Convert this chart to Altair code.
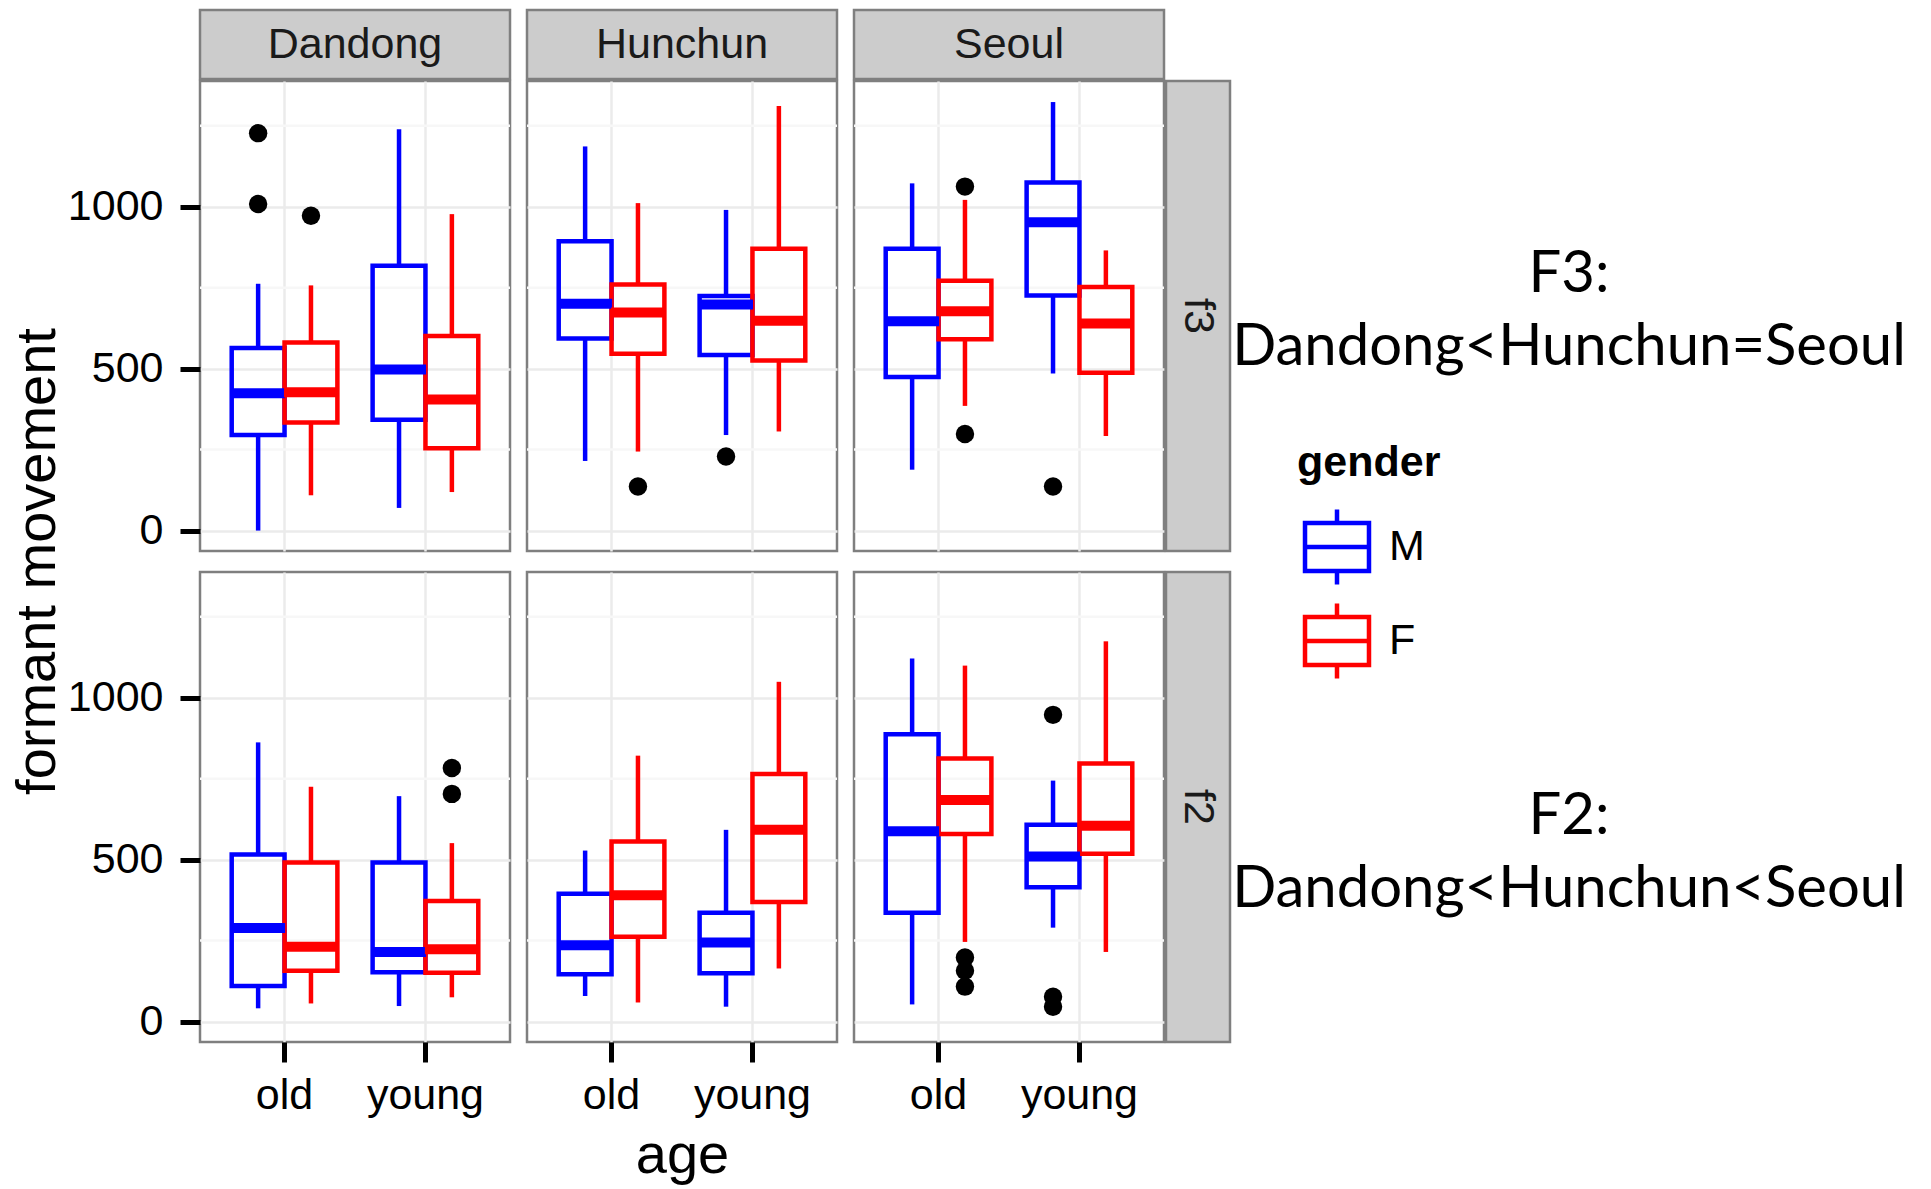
import altair as alt
import pandas as pd

# ---------------- data ----------------
cities = ["Dandong", "Hunchun", "Seoul"]
ages = ["old", "young"]
genders = ["M", "F"]
formants = ["f3", "f2"]

box_formant = ["f3"] * 12 + ["f2"] * 12
box_city = (["Dandong"] * 4 + ["Hunchun"] * 4 + ["Seoul"] * 4) * 2
box_age = ["old", "old", "young", "young"] * 6
box_gender = ["M", "F"] * 12
box_lo = [0, 109, 70, 119, 215, 244, 295, 306, 188, 385, 485, 292,
          41, 56, 48, 75, 79, 59, 46, 164, 53, 246, 290, 215]
box_q1 = [295, 334, 342, 254, 593, 546, 542, 525, 474, 591, 726, 487,
          110, 157, 152, 151, 146, 262, 149, 369, 336, 579, 415, 518]
box_med = [424, 427, 497, 405, 700, 673, 698, 648, 646, 677, 952, 639,
           289, 231, 215, 223, 236, 390, 244, 592, 588, 684, 510, 605]
box_q3 = [564, 581, 818, 601, 893, 760, 724, 870, 870, 771, 1075, 752,
          516, 491, 491, 372, 395, 556, 336, 764, 887, 812, 608, 797]
box_hi = [762, 757, 1239, 977, 1186, 1011, 990, 1311, 1072, 1021, 1323, 865,
          862, 725, 696, 551, 528, 821, 592, 1049, 1121, 1099, 744, 1174]

out_formant = ["f3"] * 8 + ["f2"] * 8
out_city = ["Dandong", "Dandong", "Dandong", "Hunchun", "Hunchun", "Seoul", "Seoul", "Seoul",
            "Dandong", "Dandong", "Seoul", "Seoul", "Seoul", "Seoul", "Seoul", "Seoul"]
out_age = ["old", "old", "old", "old", "young", "old", "old", "young",
           "young", "young", "old", "old", "old", "young", "young", "young"]
out_gender = ["M", "M", "F", "F", "M", "F", "F", "M",
              "F", "F", "F", "F", "F", "M", "M", "M"]
out_value = [1227, 1008, 972, 136, 229, 1062, 298, 136,
             783, 703, 198, 157, 108, 947, 77, 46]

major_ticks = [0, 500, 1000]
minor_ticks = [250, 750, 1250]
annot_texts = {"f3": "F3:\nDandong<Hunchun=Seoul", "f2": "F2:\nDandong<Hunchun<Seoul"}

box_df = pd.DataFrame({"formant": box_formant, "city": box_city, "age": box_age,
                       "gender": box_gender, "lo": box_lo, "q1": box_q1,
                       "med": box_med, "q3": box_q3, "hi": box_hi})
out_df = pd.DataFrame({"formant": out_formant, "city": out_city, "age": out_age,
                       "gender": out_gender, "value": out_value})
minor_df = pd.DataFrame({"v": minor_ticks})

# ---------------- style ----------------
FONT = "Liberation Sans"
GRID = "#EBEBEB"
MINOR = "#F7F7F7"
BORDER = "#7F7F7F"
STRIP = "#CCCCCC"
LW = 4.5
PW, PH = 310, 470
STRIP_H, STRIP_W = 69, 64
YT_W, GAP_Y, GAP_C, GAP_R, ANN_W = 58, 133, 17, 2, 690
GAP_STRIP, GAP_ROW = 2, 21

xscale = alt.Scale(domain=ages, paddingInner=0.25, paddingOuter=0.225)
offscale = alt.Scale(domain=genders, paddingInner=0, paddingOuter=0)
yscale = alt.Scale(domain=[-63, 1388], nice=False, zero=False)
cscale = alt.Scale(domain=genders, range=["#0000FF", "#FF0000"])

BOX_PATH = ("M0,-1L0,-0.64M-0.853,-0.64L0.853,-0.64L0.853,0.64L-0.853,0.64Z"
            "M-0.853,0L0.853,0M0,0.64L0,1")
legend = alt.Legend(title="gender", orient="none", legendX=1288, legendY=432,
                    symbolType=BOX_PATH, symbolSize=5625, symbolStrokeWidth=LW,
                    symbolFillColor="white",
                    labelFontSize=43, labelFont=FONT,
                    labelColor="black", titleFontSize=43, titleFont=FONT,
                    titleFontWeight="bold", titleColor="black", titlePadding=22,
                    rowPadding=0, labelOffset=12)


def panel(f, c, left, bottom, xtitle):
    bsub = box_df[(box_df.formant == f) & (box_df.city == c)]
    osub = out_df[(out_df.formant == f) & (out_df.city == c)]
    yaxis = alt.Axis(values=major_ticks, format="d", grid=True, gridColor=GRID,
                     gridWidth=2.5, labels=left, ticks=left, domain=False, title="",
                     tickSize=20, tickWidth=5, tickColor="black",
                     labelFontSize=43, labelFont=FONT, labelColor="black",
                     labelPadding=17)
    xaxis = alt.Axis(grid=True, gridColor=GRID, gridWidth=2.5, bandPosition=0.5,
                     labels=bottom, ticks=bottom, domain=False, title=xtitle,
                     labelAngle=0, tickSize=20, tickWidth=5, tickColor="black",
                     labelFontSize=43, labelFont=FONT, labelColor="black",
                     labelPadding=12, titleFontSize=56, titleFont=FONT,
                     titleFontWeight="normal", titleColor="black", titlePadding=11)
    X = alt.X("age:N", scale=xscale, axis=xaxis)
    XO = alt.XOffset("gender:N", scale=offscale)
    S = alt.Stroke("gender:N", scale=cscale, legend=legend)
    Y = lambda fld: alt.Y(fld, scale=yscale, axis=yaxis)

    minor = alt.Chart(minor_df).mark_rule(stroke=MINOR, strokeWidth=2.5).encode(y=Y("v:Q"))
    whisk_lo = alt.Chart(bsub).mark_rule(strokeWidth=LW).encode(
        x=X, xOffset=XO, y=Y("lo:Q"), y2="q1:Q", stroke=S)
    whisk_hi = alt.Chart(bsub).mark_rule(strokeWidth=LW).encode(
        x=X, xOffset=XO, y=Y("q3:Q"), y2="hi:Q", stroke=S)
    boxes = alt.Chart(bsub).mark_bar(filled=False, strokeWidth=LW).encode(
        x=X, xOffset=XO, y=Y("q1:Q"), y2="q3:Q", stroke=S)
    meds = alt.Chart(bsub).mark_tick(filled=False, thickness=1, size=45,
                                     strokeWidth=9, opacity=1).encode(
        x=X, xOffset=XO, y=Y("med:Q"), stroke=S)
    pts = alt.Chart(osub).mark_point(filled=True, color="black", size=340, opacity=1).encode(
        x=X, xOffset=XO, y=Y("value:Q"))
    return alt.layer(minor, whisk_lo, whisk_hi, boxes, meds, pts).properties(
        width=PW, height=PH,
        view=alt.ViewBackground(stroke=BORDER, strokeWidth=2.5, fill="white"))


def text_box(label, w, h, angle=0, fill=STRIP, stroke=BORDER, size=43, color="#1A1A1A"):
    return alt.Chart(pd.DataFrame({"t": [label]})).mark_text(
        font=FONT, fontSize=size, color=color, angle=angle).encode(
        text="t:N").properties(
        width=w, height=h,
        view=alt.ViewBackground(fill=fill, stroke=stroke, strokeWidth=2.5))


def spacer(w, h):
    return alt.Chart(pd.DataFrame({"t": [""]})).mark_text().encode(text="t:N").properties(
        width=w, height=h,
        view=alt.ViewBackground(stroke="transparent", fill="transparent"))


def annotation(f, yv):
    return alt.Chart(pd.DataFrame({"t": [annot_texts[f]]})).mark_text(
        font="Lato", fontSize=58, color="black", lineBreak="\n", lineHeight=73,
        baseline="middle", align="center").encode(
        text="t:N", x=alt.value(339), y=alt.value(yv)).properties(
        width=ANN_W, height=PH,
        view=alt.ViewBackground(stroke="transparent", fill="transparent"))


ytitle = alt.Chart(pd.DataFrame({"t": ["formant movement"]})).mark_text(
    font=FONT, fontSize=56, color="black", angle=270).encode(
    text="t:N", x=alt.value(YT_W / 2), y=alt.value(PH + GAP_ROW / 2)).properties(
    width=YT_W, height=PH,
    view=alt.ViewBackground(stroke="transparent", fill="transparent"))

col_w = [YT_W, GAP_Y, PW, GAP_C, PW, GAP_C, PW, GAP_R, STRIP_W, ANN_W]

cells = []
# row 0: column strips
row0 = {2: "Dandong", 4: "Hunchun", 6: "Seoul"}
for i, w in enumerate(col_w):
    cells.append(text_box(row0[i], w, STRIP_H) if i in row0 else spacer(w, STRIP_H))
# row 1: gap
for w in col_w:
    cells.append(spacer(w, GAP_STRIP))
# row 2: f3 panels
for i, w in enumerate(col_w):
    if i == 0:
        cells.append(ytitle)
    elif i in (2, 4, 6):
        c = cities[(i - 2) // 2]
        cells.append(panel("f3", c, c == "Dandong", False, ""))
    elif i == 8:
        cells.append(text_box("f3", STRIP_W, PH, angle=90))
    elif i == 9:
        cells.append(annotation("f3", 194))
    else:
        cells.append(spacer(w, PH))
# row 3: gap
for w in col_w:
    cells.append(spacer(w, GAP_ROW))
# row 4: f2 panels
for i, w in enumerate(col_w):
    if i in (2, 4, 6):
        c = cities[(i - 2) // 2]
        cells.append(panel("f2", c, c == "Dandong", True, "age" if c == "Hunchun" else ""))
    elif i == 8:
        cells.append(text_box("f2", STRIP_W, PH, angle=90))
    elif i == 9:
        cells.append(annotation("f2", 245))
    else:
        cells.append(spacer(w, PH))

chart = alt.concat(*cells, columns=len(col_w), spacing=0, bounds="flush").properties(
    padding=0, background="white").resolve_scale(stroke="shared")

chart.save("out.html", embed_options={"renderer": "svg", "actions": False})
